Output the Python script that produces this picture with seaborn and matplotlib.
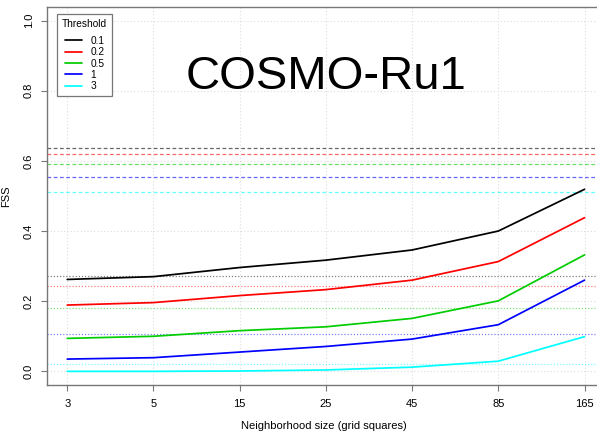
import pandas as pd
import matplotlib.pyplot as plt
import seaborn as sns

# neighbourhood sizes (categorical x axis)
sizes = ["3", "5", "15", "25", "45", "85", "165"]
thresholds = ["0.1", "0.2", "0.5", "1", "3"]

fss_01 = [0.262, 0.270, 0.296, 0.317, 0.346, 0.400, 0.519]
fss_02 = [0.189, 0.196, 0.216, 0.233, 0.260, 0.313, 0.438]
fss_05 = [0.094, 0.100, 0.116, 0.127, 0.151, 0.201, 0.332]
fss_1 = [0.035, 0.039, 0.055, 0.071, 0.092, 0.133, 0.260]
fss_3 = [0.000, 0.000, 0.001, 0.004, 0.012, 0.029, 0.099]

# reference levels (upper: dashed, lower: dotted)
upper_ref = [0.636, 0.621, 0.591, 0.553, 0.510]
lower_ref = [0.273, 0.243, 0.182, 0.106, 0.021]

colors = ["black", "#ff0000", "#00cd00", "#0000ff", "#00ffff"]

df = pd.DataFrame({
    "size": list(range(len(sizes))) * 5,
    "FSS": fss_01 + fss_02 + fss_05 + fss_1 + fss_3,
    "Threshold": [t for t in thresholds for _ in sizes],
})

sns.set_style("white")
plt.rcParams["font.family"] = ["Liberation Sans", "DejaVu Sans"]
plt.rcParams["text.color"] = "black"

fig = plt.figure(figsize=(5.97, 4.34), dpi=100)
ax = fig.add_axes([0.078, 0.112, 0.93, 0.873])

for i, c in enumerate(colors):
    ax.axhline(upper_ref[i], color=c, lw=0.9, ls=(0, (3, 2)), alpha=0.6, zorder=1)
    ax.axhline(lower_ref[i], color=c, lw=0.9, ls=(0, (1, 1.5)), alpha=0.5, zorder=1)

sns.lineplot(
    data=df,
    x="size",
    y="FSS",
    hue="Threshold",
    palette=colors,
    linewidth=1.25,
    ax=ax,
    zorder=3
)

ax.set_xlim(-0.24, 6.2)
ax.set_ylim(-0.04, 1.04)
ax.set_xticks(range(len(sizes)))
ax.set_xticklabels(sizes)
ax.set_yticks([0.0, 0.2, 0.4, 0.6, 0.8, 1.0])
ax.set_yticklabels(["0.0", "0.2", "0.4", "0.6", "0.8", "1.0"], rotation=90, va="center")
ax.tick_params(axis="both", labelsize=8, length=4.5, width=0.8, color="#777777",
               labelcolor="black", direction="out", left=True, bottom=True)
ax.tick_params(axis="x", pad=5.5)
ax.tick_params(axis="y", pad=4.5)
ax.grid(True, color="#dddddd", ls=(0, (1, 2)), lw=0.8)

for side in ["left", "bottom", "top", "right"]:
    ax.spines[side].set_color("#777777")
    ax.spines[side].set_linewidth(1.0)

ax.set_xlabel("Neighborhood size (grid squares)", fontsize=8, color="black")
ax.set_ylabel("FSS", fontsize=8, color="black")
ax.xaxis.set_label_coords(0.5, -0.094)
ax.yaxis.set_label_coords(-0.064, 0.5)

ax.text(3, 0.838, "COSMO-Ru1", fontsize=34, ha="center", va="center", color="black")

leg = ax.legend(
    title="Threshold",
    loc="upper left",
    bbox_to_anchor=(0.019, 0.981),
    borderaxespad=0,
    fontsize=7.3,
    title_fontsize=7.3,
    fancybox=False,
    edgecolor="#777777",
    framealpha=1,
    handlelength=1.7,
    handletextpad=0.8,
    labelspacing=0.14,
    borderpad=0.5,
)
leg.get_frame().set_linewidth(0.9)
leg._legend_box.sep = 5

plt.savefig("out.png", dpi=100)
plt.close()
